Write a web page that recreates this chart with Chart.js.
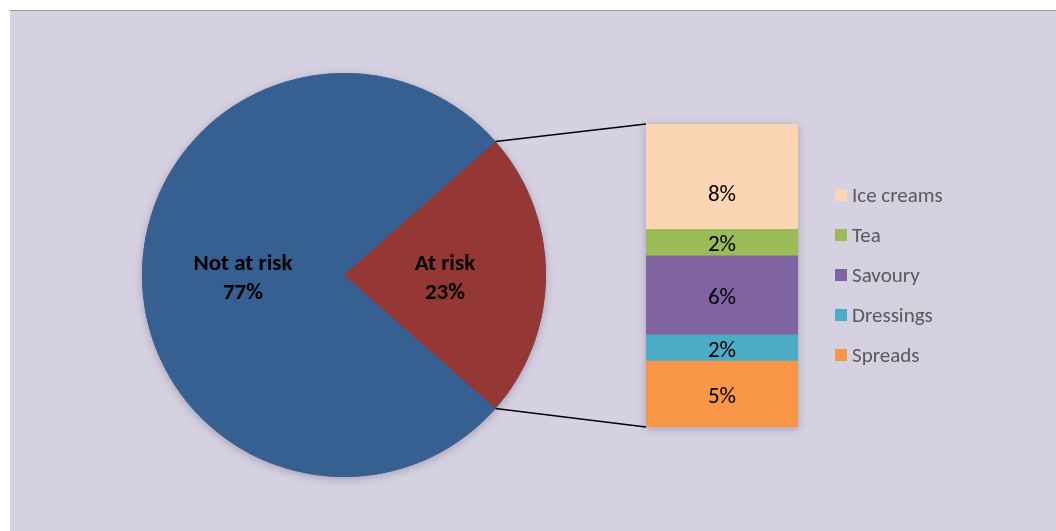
<!DOCTYPE html>
<html>
<head>
<meta charset="utf-8">
<script src="https://cdn.jsdelivr.net/npm/chart.js@4/dist/chart.umd.min.js"></script>
<style>
  html, body { margin: 0; padding: 0; background: #fff; }
  body { width: 1056px; height: 531px; position: relative; overflow: hidden; }
  #frame { position: absolute; left: 10px; top: 10px; right: 0; bottom: 0;
           background: #d6d1e1; border-top: 1px solid #9a92b6; }
  canvas { position: absolute; }
  #pie { left: 132px; top: 63px; }
  #bar { left: 636px; top: 114px; }
  #links { left: 0; top: 0; pointer-events: none; }
  #legend { position: absolute; left: 835px; top: 175px;
            font: 21px Carlito, Calibri, Lato, sans-serif; color: #595959; }
  #legend .row { height: 40px; display: flex; align-items: center; }
  #legend .box { width: 12px; height: 12px; margin-right: 5px; }
</style>
</head>
<body>
<div id="frame"></div>
<canvas id="pie" width="424" height="424"></canvas>
<canvas id="bar" width="172" height="323"></canvas>
<canvas id="links" width="1056" height="531"></canvas>
<div id="legend"></div>

<script>
// main split
const pieLabels = ['Not at risk', 'At risk'];
const pieValues = [77, 23];
const pieColors = ['#366092', '#953735'];

// breakdown of "At risk", bottom to top
const segLabels = ['Spreads', 'Dressings', 'Savoury', 'Tea', 'Ice creams'];
const segValues = [5, 2, 6, 2, 8];
const segColors = ['#f79646', '#4bacc6', '#8064a2', '#9bbb59', '#fcd5b5'];

const FONT = 'Carlito, Calibri, Lato, sans-serif';
const SHADOW = 'rgba(40,30,60,0.28)';

(function(){
  const total = pieValues.reduce((a, b) => a + b, 0);
  const notDeg = pieValues[0] / total * 360;
  const halfRisk = pieValues[1] / total * 180;
  // put the "At risk" slice centred on 3 o'clock
  const rotation = 90 - notDeg - halfRisk;

  const pieShadow = {
    id: 'pieShadow',
    beforeDatasetsDraw(chart){
      const arc = chart.getDatasetMeta(0).data[0];
      const ctx = chart.ctx;
      ctx.save();
      ctx.shadowColor = SHADOW;
      ctx.shadowBlur = 8;
      ctx.shadowOffsetY = 2;
      ctx.fillStyle = pieColors[0];
      ctx.beginPath();
      ctx.arc(arc.x, arc.y, arc.outerRadius, 0, Math.PI * 2);
      ctx.fill();
      ctx.restore();
    }
  };

  const pieText = {
    id: 'pieText',
    afterDatasetsDraw(chart){
      const ctx = chart.ctx;
      ctx.save();
      ctx.fillStyle = '#000';
      ctx.font = 'bold 23px ' + FONT;
      ctx.textAlign = 'center';
      ctx.textBaseline = 'middle';
      chart.getDatasetMeta(0).data.forEach((arc, i) => {
        const mid = (arc.startAngle + arc.endAngle) / 2;
        const r = arc.outerRadius * 0.5;
        const x = arc.x + Math.cos(mid) * r;
        const y = arc.y + Math.sin(mid) * r + 4;
        ctx.fillText(pieLabels[i], x, y - 14.5);
        ctx.fillText(pieValues[i] + '%', x, y + 14.5);
      });
      ctx.restore();
    }
  };

  const pieChart = new Chart(document.getElementById('pie'), {
    type: 'pie',
    data: {
      labels: pieLabels,
      datasets: [{ data: pieValues, backgroundColor: pieColors,
                   borderWidth: 0, hoverOffset: 0, offset: 0 }]
    },
    options: {
      responsive: false,
      animation: false,
      rotation: rotation,
      layout: { padding: 10 },
      plugins: { legend: { display: false }, tooltip: { enabled: false } }
    },
    plugins: [pieShadow, pieText]
  });

  const barShadow = {
    id: 'barShadow',
    beforeDatasetsDraw(chart){
      const first = chart.getDatasetMeta(0).data[0];
      const last = chart.getDatasetMeta(segValues.length - 1).data[0];
      const ctx = chart.ctx;
      ctx.save();
      ctx.shadowColor = SHADOW;
      ctx.shadowBlur = 8;
      ctx.shadowOffsetY = 2;
      ctx.fillStyle = segColors[0];
      ctx.fillRect(first.x - first.width / 2, last.y, first.width, first.base - last.y);
      ctx.restore();
    }
  };

  const barText = {
    id: 'barText',
    afterDatasetsDraw(chart){
      const ctx = chart.ctx;
      ctx.save();
      ctx.fillStyle = '#000';
      ctx.font = '23px ' + FONT;
      ctx.textAlign = 'center';
      ctx.textBaseline = 'middle';
      segValues.forEach((v, i) => {
        const el = chart.getDatasetMeta(i).data[0];
        let y = (el.y + el.base) / 2 + 3;
        // top label sits a little low in the original
        if(i === segValues.length - 1) y += 16;
        ctx.fillText(v + '%', el.x, y);
      });
      ctx.restore();
    }
  };

  const barChart = new Chart(document.getElementById('bar'), {
    type: 'bar',
    data: {
      labels: ['At risk'],
      datasets: segLabels.map((l, i) => ({
        label: l, data: [segValues[i]], backgroundColor: segColors[i],
        borderWidth: 0, barPercentage: 1, categoryPercentage: 1
      }))
    },
    options: {
      responsive: false,
      animation: false,
      layout: { padding: 10 },
      scales: {
        x: { stacked: true, display: false },
        y: { stacked: true, display: false, min: 0, max: segValues.reduce((a, b) => a + b, 0) }
      },
      plugins: { legend: { display: false }, tooltip: { enabled: false } }
    },
    plugins: [barShadow, barText]
  });

  // connector lines from the "At risk" slice edges to the stacked bar
  function drawLinks(){
    const cv = document.getElementById('links');
    const ctx = cv.getContext('2d');
    const pc = pieChart.canvas, bc = barChart.canvas;
    const arc = pieChart.getDatasetMeta(0).data[1];
    const bottom = barChart.getDatasetMeta(0).data[0];
    const top = barChart.getDatasetMeta(segValues.length - 1).data[0];
    const px = pc.offsetLeft, py = pc.offsetTop;
    const bx = bc.offsetLeft, by = bc.offsetTop;
    const a1 = { x: px + arc.x + Math.cos(arc.startAngle) * arc.outerRadius,
                 y: py + arc.y + Math.sin(arc.startAngle) * arc.outerRadius };
    const a2 = { x: px + arc.x + Math.cos(arc.endAngle) * arc.outerRadius,
                 y: py + arc.y + Math.sin(arc.endAngle) * arc.outerRadius };
    const left = bx + top.x - top.width / 2;
    ctx.strokeStyle = '#000';
    ctx.lineWidth = 1.5;
    ctx.beginPath();
    ctx.moveTo(a1.x, a1.y); ctx.lineTo(left, by + top.y);
    ctx.moveTo(a2.x, a2.y); ctx.lineTo(left, by + bottom.base);
    ctx.stroke();
  }
  drawLinks();

  // legend, top of the stack first
  const legend = document.getElementById('legend');
  for(let i = segLabels.length - 1; i >= 0; i--){
    const row = document.createElement('div');
    row.className = 'row';
    const box = document.createElement('span');
    box.className = 'box';
    box.style.background = segColors[i];
    const txt = document.createElement('span');
    txt.textContent = segLabels[i];
    row.appendChild(box);
    row.appendChild(txt);
    legend.appendChild(row);
  }
})();
</script>
</body>
</html>
